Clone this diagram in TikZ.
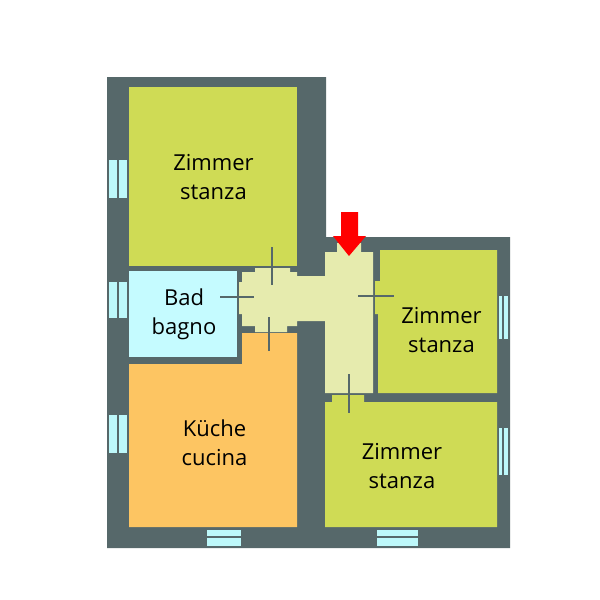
\documentclass[tikz,border=0pt]{standalone}
\usepackage{fontspec}
\setmainfont{Open Sans}
\usepackage{tikz}
\usetikzlibrary{positioning}

\definecolor{wallgray}{HTML}{56686A}
\definecolor{roomgreen}{HTML}{CFDB55}
\definecolor{hallgreen}{HTML}{E6EBAE}
\definecolor{bathblue}{HTML}{C5FBFF}
\definecolor{kitchenorange}{HTML}{FDC562}
\definecolor{paneblue}{HTML}{BDF8FA}

\begin{document}
\begin{tikzpicture}[%
    ,x=1pt,y=-1pt
    ,label/.style = {%
        ,align=center
        ,font=\fontsize{22}{29}\selectfont
        ,text=black
        }
    ,room/.style = {fill=roomgreen}
    ,pane/.style = {fill=paneblue}
    ,tick/.style = {draw=wallgray,line width=1.3pt}
    ]
\useasboundingbox (0,0) rectangle (600,600);

% Walls
\fill[wallgray] (107,77) -- (326,77) -- (326,237) -- (510,237) -- (510,548) -- (107,548) -- cycle;

% Rooms
\fill[room] (129,87) rectangle (297,265.7);
\fill[bathblue] (129,271) rectangle (237,357);
\fill[kitchenorange] (129,364) -- (242,364) -- (242,333) -- (297,333) -- (297,527) -- (129,527) -- cycle;
\fill[room] (380,250) -- (497,250) -- (497,393) -- (378,393) -- (378,314) -- (375,314) -- (375,281) -- (380,281) -- cycle;
\fill[room] (325,402) -- (332,402) -- (332,395) -- (364,395) -- (364,402) -- (497,402) -- (497,527) -- (325,527) -- cycle;

% Hall
\fill[hallgreen] (325,252) -- (337,252) -- (337,243) -- (361,243) -- (361,252) -- (373,252)
    -- (373,393) -- (325,393) -- (325,321) -- (297,321) -- (297,326) -- (287,326) -- (287,332)
    -- (255,332) -- (255,326) -- (242,326) -- (242,314) -- (239,314) -- (239,282) -- (242,282)
    -- (242,272) -- (255,272) -- (255,268) -- (290,268) -- (290,272) -- (297,272) -- (297,276)
    -- (325,276) -- cycle;

% Doors
\draw[tick] (272,247) -- (272,285);
\draw[tick] (220,297) -- (254,297);
\draw[tick] (269,317) -- (269,351);
\draw[tick] (358,296) -- (394,296);
\draw[tick] (349,374) -- (349,413);

% Windows, left and right wall
\foreach \i/\j in {160/198,282/318,415/453}
{
    \fill[pane] (109,\i) rectangle (117,\j);
    \fill[pane] (119,\i) rectangle (127,\j);
}
\foreach \i/\j in {296/339,428/475}
{
    \fill[pane] (498.5,\i) rectangle (502,\j);
    \fill[pane] (503.5,\i) rectangle (508,\j);
}
% Windows, bottom wall
\foreach \i/\j in {207/241,377/418}
{
    \fill[pane] (\i,529.5) rectangle (\j,536);
    \fill[pane] (\i,538) rectangle (\j,546);
}

% Entrance
\fill[red] (341,212) -- (358,212) -- (358,236) -- (366,236) -- (349,256) -- (333,236) -- (341,236) -- cycle;

% Room names
\node (big) [label] at (213.5,177.5) {Zimmer\\stanza};
\node (bad) [label] at (184,314.5) {Bad\\bagno};
\node (kue) [label] at (214.5,443) {Küche\\cucina};
\node (east) [label] at (441.5,330.5) {Zimmer\\stanza};
\node (south) [label] at (402,466.5) {Zimmer\\stanza};
\end{tikzpicture}
\end{document}
